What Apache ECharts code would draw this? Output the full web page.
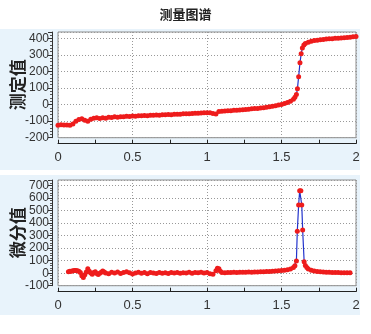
<!DOCTYPE html>
<html>
<head>
<meta charset="utf-8">
<script src="https://cdn.jsdelivr.net/npm/echarts@6/dist/echarts.min.js"></script>
<style>
  html, body { margin: 0; padding: 0; background: #ffffff; }
  #chart { width: 371px; height: 334px; }
</style>
</head>
<body>
<div id="chart"></div>
<script>
// 测定值 curve (titration measurement)
const measureX = [
  0.00, 0.02, 0.04, 0.06, 0.08, 0.10, 0.12, 0.14, 0.16, 0.18,
  0.20, 0.22, 0.24, 0.26, 0.28, 0.30, 0.32, 0.34, 0.36, 0.38,
  0.40, 0.42, 0.44, 0.46, 0.48, 0.50, 0.52, 0.54, 0.56, 0.58,
  0.60, 0.62, 0.64, 0.66, 0.68, 0.70, 0.72, 0.74, 0.76, 0.78,
  0.80, 0.82, 0.84, 0.86, 0.88, 0.90, 0.92, 0.94, 0.96, 0.98,
  1.00, 1.02, 1.04, 1.06, 1.08, 1.10, 1.12, 1.14, 1.16, 1.18,
  1.20, 1.22, 1.24, 1.26, 1.28, 1.30, 1.32, 1.34, 1.36, 1.38,
  1.40, 1.42, 1.44, 1.46, 1.48, 1.50, 1.52, 1.54, 1.56, 1.58,
  1.59, 1.60, 1.607, 1.615, 1.624, 1.632, 1.64, 1.65, 1.66, 1.68,
  1.70, 1.72, 1.74, 1.76, 1.78, 1.80, 1.82, 1.84, 1.86, 1.88,
  1.90, 1.92, 1.94, 1.96, 1.98, 2.00
];
const measureY = [
  -125, -122, -123, -124, -125, -118, -100, -90, -86, -95,
  -100, -88, -82, -80, -84, -79, -82, -76, -78, -74,
  -76, -73, -74, -71, -72, -69, -70, -68, -68, -66,
  -67, -65, -65, -63, -64, -62, -62, -60, -61, -59,
  -58, -58, -56, -56, -55, -54, -53, -52, -51, -50,
  -49, -50, -54, -57, -42, -40, -39, -38, -37, -35,
  -34, -33, -31, -30, -28, -26, -24, -23, -21, -19,
  -16, -13, -10, -7, -3, 1, 6, 12, 20, 32,
  44, 60, 96, 168, 252, 306, 342, 360, 368, 376,
  382, 386, 388, 391, 393, 395, 397, 398, 400, 401,
  402, 404, 405, 407, 409, 411
];

// 微分值 curve (first derivative)
const diffX = [
  0.07, 0.08, 0.09, 0.10, 0.11, 0.12, 0.13, 0.14, 0.15, 0.16,
  0.17, 0.18, 0.19, 0.20, 0.21, 0.22, 0.23, 0.24, 0.25, 0.26,
  0.27, 0.28, 0.29, 0.30, 0.31, 0.32, 0.34, 0.36, 0.38, 0.40,
  0.42, 0.44, 0.46, 0.48, 0.50, 0.52, 0.54, 0.56, 0.58, 0.60,
  0.62, 0.64, 0.66, 0.68, 0.70, 0.72, 0.74, 0.76, 0.78, 0.80,
  0.82, 0.84, 0.86, 0.88, 0.90, 0.92, 0.94, 0.96, 0.98, 1.00,
  1.02, 1.04, 1.06, 1.07, 1.08, 1.09, 1.10, 1.12, 1.14, 1.16,
  1.18, 1.20, 1.22, 1.24, 1.26, 1.28, 1.30, 1.32, 1.34, 1.36,
  1.38, 1.40, 1.42, 1.44, 1.46, 1.48, 1.50, 1.52, 1.54, 1.56,
  1.58, 1.59, 1.600, 1.606, 1.615, 1.622, 1.630, 1.636, 1.642, 1.652,
  1.66, 1.67, 1.68, 1.70, 1.72, 1.74, 1.76, 1.78, 1.80, 1.82,
  1.84, 1.86, 1.88, 1.90, 1.92, 1.94, 1.96
];
const diffY = [
  12, 15, 16, 20, 22, 21, 20, 16, 5, -20,
  -35, -12, 10, 35, 15, 2, -8, 5, 12, -3,
  -10, 0, 8, 18, 10, 2, -4, 8, 2, 10,
  -2, 6, 12, 4, -6, 2, 8, 0, 6, -4,
  5, 2, -3, 6, 0, 4, -2, 5, 1, 6,
  -1, 4, 2, 7, 0, 5, 3, 8, 2, 6,
  -5, -8, 20, 40, 35, 15, 5, 4, 6, 5,
  7, 6, 8, 7, 8, 9, 8, 10, 9, 11,
  12, 13, 14, 16, 18, 20, 22, 24, 28, 33,
  45, 60, 98, 335, 545, 660, 660, 545, 345, 92,
  62, 45, 34, 24, 18, 14, 12, 10, 8, 7,
  6, 5, 5, 4, 4, 3, 3
];

// Axis tick labels
const xTickLabels = ['0', '0.5', '1', '1.5', '2'];
const measureTicks = [-200, -100, 0, 100, 200, 300, 400];
const diffTicks = [-100, 0, 100, 200, 300, 400, 500, 600, 700];

const pair = (xs, ys) => xs.map((x, i) => [x, ys[i]]);

const labelFont = { fontFamily: 'Liberation Sans, Arial, sans-serif', color: '#333' };

function xAxisFor(gridIndex) {
  return {
    type: 'value', gridIndex, min: 0, max: 2, interval: 0.5, offset: 6,
    axisLine: { show: true, onZero: false, lineStyle: { color: '#222', width: 1 } },
    axisTick: { show: true, inside: true, length: 4, lineStyle: { color: '#222' } },
    minorTick: { show: true, splitNumber: 2, length: 4, lineStyle: { color: '#222' } },
    axisLabel: Object.assign({ fontSize: 13, margin: 7,
      formatter: v => xTickLabels[Math.round(v * 2)] || '' }, labelFont),
    splitLine: { show: true, lineStyle: { color: '#999', type: [1, 2], width: 1 } }
  };
}

function yAxisFor(gridIndex, name, ticks, max, nameGap) {
  return {
    type: 'value', gridIndex, min: ticks[0], max, interval: 100, offset: 6,
    name, nameLocation: 'middle', nameRotate: 90, nameGap, nameMoveOverlap: false,
    nameTextStyle: { fontSize: 17, fontWeight: 'bold', color: '#222',
      fontFamily: 'Noto Sans CJK SC, sans-serif' },
    axisLine: { show: true, onZero: false, lineStyle: { color: '#333', width: 1 } },
    axisTick: { show: true, length: 4, lineStyle: { color: '#333' } },
    minorTick: { show: true, splitNumber: 5, length: 2, lineStyle: { color: '#555' } },
    axisLabel: Object.assign({ fontSize: 12, margin: 3, showMaxLabel: false,
      formatter: v => (ticks.indexOf(v) >= 0 ? String(v) : '') }, labelFont),
    splitLine: { show: true, lineStyle: { color: '#999', type: [1, 2], width: 1 } }
  };
}

function curve(xi, data) {
  return {
    type: 'line', xAxisIndex: xi, yAxisIndex: xi, data,
    symbol: 'circle', symbolSize: 5, animation: false,
    itemStyle: { color: '#ee1c1c' },
    lineStyle: { color: '#2233cc', width: 1.2 },
    emphasis: { disabled: true }
  };
}

const gridBase = {
  left: 58, width: 298, height: 105.7, show: true,
  backgroundColor: '#ffffff', borderColor: '#8c8c8c', borderWidth: 1,
  containLabel: false, outerBoundsMode: 'none'
};

const chart = echarts.init(document.getElementById('chart'), null, { renderer: 'canvas' });
chart.setOption({
  backgroundColor: '#ffffff',
  animation: false,
  title: {
    text: '测量图谱', left: 'center', top: 3,
    textStyle: { fontSize: 13, fontWeight: 'bold', color: '#222',
      fontFamily: 'Noto Sans CJK SC, sans-serif' }
  },
  graphic: [
    { type: 'rect', z: -10, silent: true, shape: { x: 0, y: 29, width: 360, height: 141 },
      style: { fill: '#e8f3fb' } },
    { type: 'rect', z: -10, silent: true, shape: { x: 0, y: 175, width: 360, height: 140 },
      style: { fill: '#e8f3fb' } }
  ],
  grid: [
    Object.assign({ top: 32 }, gridBase),
    Object.assign({ top: 180 }, gridBase)
  ],
  xAxis: [xAxisFor(0), xAxisFor(1)],
  yAxis: [
    yAxisFor(0, '测定值', measureTicks, 438, 26),
    yAxisFor(1, '微分值', diffTicks, 745, 26)
  ],
  series: [
    curve(0, pair(measureX, measureY)),
    curve(1, pair(diffX, diffY))
  ]
});
</script>
</body>
</html>
